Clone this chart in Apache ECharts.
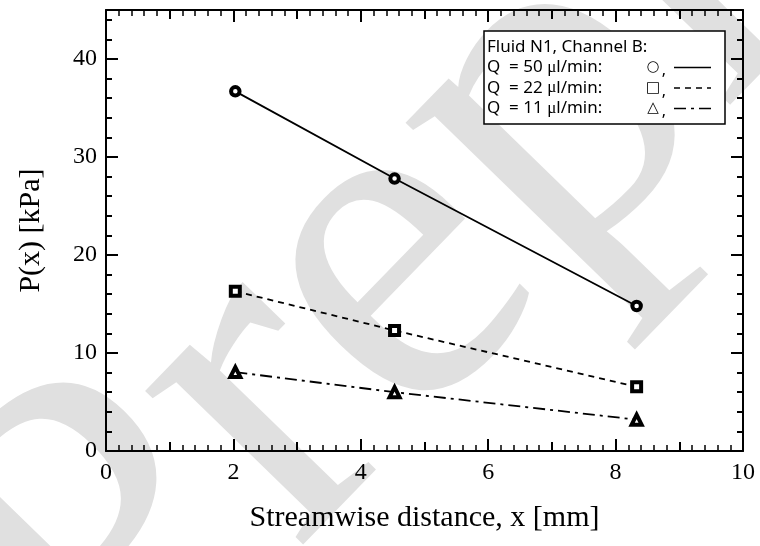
<!DOCTYPE html>
<html><head><meta charset="utf-8">
<script src="https://cdn.jsdelivr.net/npm/echarts@6/dist/echarts.min.js"></script>
<style>html,body{margin:0;padding:0;background:#fff}#c{width:760px;height:546px}</style>
</head><body><div id="c"></div>
<script>
// ---- data ----
const xPositions = [2.03, 4.53, 8.33];
const q50 = [36.7, 27.8, 14.8];
const q22 = [16.3, 12.3, 6.55];
const q11 = [8.05, 6.0, 3.2];
const seriesLabels = ['Q  = 50 ', 'Q  = 22 ', 'Q  = 11 '];
const legendTitle = 'Fluid N1, Channel B:';
const legendGlyphs = ['\u25CB', '\u25A1', '\u25B3'];
const xName = 'Streamwise distance, x [mm]';
const yName = 'P(x) [kPa]';
const watermark = 'Preprint';

const pts = ys => xPositions.map((x, i) => [x, ys[i]]);
const serif = 'Liberation Serif';
const black = '#000';

function xAx(grid, pos, interval, len, main, minor) {
  return {
    gridIndex: grid, type: 'value', position: pos, min: 0, max: 10, interval: interval,
    axisLine: { show: main, onZero: false, lineStyle: { color: black, width: 2 } },
    axisTick: { show: true, inside: true, length: len, lineStyle: { color: black, width: 2 } },
    minorTick: { show: !!minor, splitNumber: 10, length: 6, lineStyle: { color: black, width: 1.5 } },
    axisLabel: { show: main && pos === 'bottom', fontFamily: serif, fontSize: 24, color: black, margin: 10 },
    splitLine: { show: false },
    name: (main && pos === 'bottom') ? xName : '',
    nameLocation: 'middle', nameGap: 52,
    nameTextStyle: { fontFamily: serif, fontSize: 30, color: black }
  };
}
function yAx(grid, pos, interval, len, main) {
  return {
    gridIndex: grid, type: 'value', position: pos, min: 0, max: 45, interval: interval,
    axisLine: { show: main, onZero: false, lineStyle: { color: black, width: 2 } },
    axisTick: { show: true, inside: true, length: len, lineStyle: { color: black, width: 2 } },
    axisLabel: { show: main && pos === 'left', showMaxLabel: false, fontFamily: serif, fontSize: 24, color: black, margin: 9 },
    splitLine: { show: false },
    name: (main && pos === 'left') ? yName : '',
    nameLocation: 'middle', nameGap: 60,
    nameTextStyle: { fontFamily: serif, fontSize: 30, color: black }
  };
}

function ser(name, data, symbol, dash) {
  return {
    name: name, type: 'line', data: data, xAxisIndex: 0, yAxisIndex: 0,
    symbol: symbol, symbolSize: symbol === 'triangle' ? 10 : (symbol === 'rect' ? 9 : 8.5),
    itemStyle: { color: '#fff', borderColor: black, borderWidth: 4 },
    lineStyle: { color: black, width: 1.8, type: dash },
    z: 5, animation: false
  };
}

// legend graphic
const L = { x: 484, y: 31, w: 241, h: 93, tx: 487, rows: [47, 67.5, 88, 108.5], gx: 653, cx: 664, l1: 674, l2: 711 };
const dashes = [null, [6, 5], [12, 5, 3, 5]];
const legendEls = [
  { type: 'rect', shape: { x: L.x, y: L.y, width: L.w, height: L.h }, style: { fill: '#fff', stroke: black, lineWidth: 1.5 }, z: 10 },
  { type: 'text', x: L.tx, y: L.rows[0], style: { text: legendTitle, fontFamily: 'Noto Sans', fontSize: 17, fill: black, verticalAlign: 'middle' }, z: 11 }
];
seriesLabels.forEach((lab, i) => {
  const y = L.rows[i + 1];
  legendEls.push({ type: 'text', x: L.tx, y: y, z: 11, style: {
    text: '{a|' + lab + '}{m|\u03BC}{a|l/min:}', verticalAlign: 'middle', fill: black,
    rich: { a: { fontFamily: 'Noto Sans', fontSize: 17, fill: black }, m: { fontFamily: serif, fontSize: 17, fill: black } } } });
  legendEls.push({ type: 'text', x: L.gx, y: y, z: 11, style: { text: legendGlyphs[i], fontFamily: 'DejaVu Sans', fontSize: 15, fill: black, align: 'center', verticalAlign: 'middle' } });
  legendEls.push({ type: 'text', x: L.cx, y: y + 3, z: 11, style: { text: ',', fontFamily: 'Noto Sans', fontSize: 16, fill: black, align: 'center', verticalAlign: 'middle' } });
  const ls = { stroke: black, lineWidth: 1.5 };
  if (dashes[i]) ls.lineDash = dashes[i];
  legendEls.push({ type: 'line', shape: { x1: L.l1, y1: y, x2: L.l2, y2: y }, style: ls, z: 11 });
});

const gridRect = { left: 106, top: 10, right: 17, bottom: 95 };
const chart = echarts.init(document.getElementById('c'), null, { renderer: 'canvas' });
chart.setOption({
  animation: false,
  backgroundColor: '#fff',
  grid: [Object.assign({}, gridRect), Object.assign({}, gridRect)],
  xAxis: [
    xAx(0, 'bottom', 2, 12, true, true), xAx(0, 'top', 2, 12, true, true),
    xAx(1, 'bottom', 1, 9, false, false), xAx(1, 'top', 1, 9, false, false)
  ],
  yAxis: [
    yAx(0, 'left', 10, 12, true), yAx(0, 'right', 10, 12, true),
    yAx(1, 'left', 2, 6, false), yAx(1, 'right', 2, 6, false)
  ],
  series: [
    ser('Q = 50', pts(q50), 'circle', 'solid'),
    ser('Q = 22', pts(q22), 'rect', [6, 5]),
    ser('Q = 11', pts(q11), 'triangle', [12, 5, 3, 5])
  ],
  graphic: [
    { type: 'text', x: 20, y: 655, rotation: 0.8, z: -100, silent: true,
      style: { text: watermark, fontFamily: serif, fontSize: 480, fill: '#e0e0e0', verticalAlign: 'middle' } }
  ].concat(legendEls)
});
</script></body></html>
